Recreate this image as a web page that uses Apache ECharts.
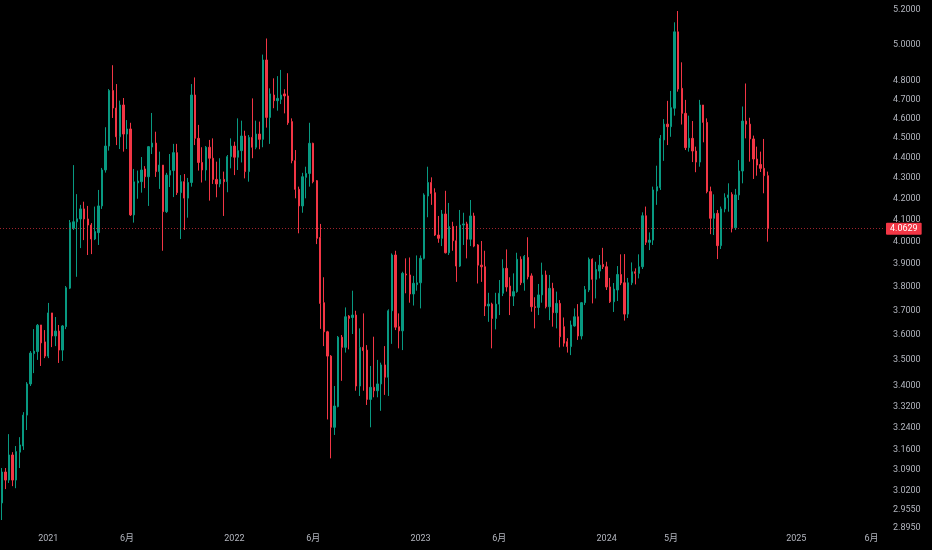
<!DOCTYPE html>
<html><head><meta charset="utf-8">
<script src="https://cdn.jsdelivr.net/npm/echarts@6/dist/echarts.min.js"></script>
<style>html,body{margin:0;padding:0;background:#000;}#c{width:932px;height:550px;}</style>
</head><body><div id="c"></div>
<script>
// ---- data ----
const firstWeek = [2020, 9, 5];   // Monday 2020-10-05 (month 0-based)
const weekCount = 247;            // weekly slots incl. empty future area
const xLabelDates = ['2021-01-04','2021-06-07','2022-01-03','2022-06-06','2023-01-02','2023-06-05','2024-01-01','2024-05-06','2025-01-06','2025-06-02'];
const xLabelTexts = ['2021','6月','2022','6月','2023','6月','2024','5月','2025','6月'];
const yTickValues = [5.2,5.0,4.8,4.7,4.6,4.5,4.4,4.3,4.2,4.1,4.0,3.9,3.8,3.7,3.6,3.5,3.4,3.32,3.24,3.16,3.09,3.02,2.955,2.895];
const lastPrice = 4.0629;

const opens = [2.977,3.083,3.055,3.143,3.055,3.153,3.175,3.288,3.406,3.525,3.533,3.641,3.572,3.515,3.691,3.596,3.616,3.539,3.634,3.796,
4.062,4.092,4.105,4.152,4.105,4.077,4.013,4.042,4.166,4.339,4.458,4.747,4.654,4.505,4.670,4.519,4.545,4.124,4.276,4.282,
4.344,4.306,4.453,4.473,4.331,4.363,4.139,4.314,4.336,4.425,4.229,4.282,4.203,4.278,4.723,4.497,4.376,4.339,4.452,4.397,
4.293,4.271,4.293,4.282,4.405,4.458,4.402,4.435,4.509,4.331,4.502,4.452,4.519,4.492,4.914,4.605,4.723,4.693,4.700,4.729,
4.718,4.583,4.385,4.245,4.166,4.303,4.322,4.472,4.287,4.020,3.734,3.613,3.515,3.243,3.320,3.591,3.550,3.678,3.672,3.682,
3.398,3.550,3.539,3.347,3.393,3.380,3.406,3.480,3.432,3.700,3.941,3.634,3.617,3.857,3.853,3.771,3.811,3.819,3.926,4.213,
4.278,4.229,4.031,4.016,4.128,3.951,4.070,4.005,3.892,4.077,4.082,4.012,4.119,3.986,3.896,3.889,3.720,3.728,3.668,3.728,
3.774,3.882,3.805,3.762,3.781,3.922,3.819,3.930,3.849,3.717,3.714,3.767,3.853,3.717,3.795,3.692,3.731,3.634,3.573,3.553,
3.637,3.675,3.596,3.734,3.788,3.922,3.834,3.870,3.899,3.889,3.801,3.738,3.788,3.855,3.819,3.686,3.819,3.867,3.860,3.889,
4.120,3.998,4.008,4.237,4.253,4.489,4.570,4.557,4.653,5.073,4.759,4.626,4.450,4.497,4.433,4.378,4.670,4.579,4.234,4.108,
4.131,3.983,4.152,4.205,4.221,4.064,4.218,4.334,4.586,4.570,4.494,4.393,4.366,4.347,4.311];
const closes = [3.083,3.055,3.143,3.055,3.155,3.179,3.288,3.406,3.527,3.535,3.640,3.568,3.515,3.691,3.596,3.616,3.539,3.637,3.798,4.088,
4.092,4.106,4.152,4.105,4.077,4.013,4.047,4.166,4.339,4.458,4.747,4.654,4.505,4.670,4.519,4.545,4.124,4.281,4.285,4.339,
4.306,4.455,4.473,4.331,4.363,4.139,4.314,4.336,4.425,4.229,4.282,4.203,4.278,4.723,4.497,4.376,4.339,4.452,4.397,4.293,
4.271,4.293,4.282,4.405,4.458,4.402,4.435,4.509,4.331,4.502,4.452,4.519,4.492,4.914,4.605,4.729,4.693,4.705,4.723,4.718,
4.577,4.385,4.245,4.166,4.306,4.322,4.472,4.282,4.016,3.731,3.613,3.515,3.243,3.322,3.591,3.550,3.675,3.668,3.682,3.398,
3.550,3.537,3.347,3.393,3.380,3.406,3.480,3.432,3.700,3.941,3.632,3.617,3.860,3.853,3.771,3.817,3.819,3.926,4.218,4.278,
4.225,4.031,4.016,4.128,3.951,4.070,4.005,3.892,4.077,4.082,4.012,4.119,3.981,3.896,3.889,3.720,3.728,3.668,3.728,3.774,
3.882,3.801,3.762,3.781,3.922,3.819,3.935,3.845,3.717,3.714,3.767,3.853,3.717,3.795,3.692,3.731,3.593,3.567,3.553,3.641,
3.675,3.596,3.734,3.790,3.922,3.834,3.877,3.896,3.889,3.801,3.738,3.792,3.855,3.818,3.686,3.819,3.867,3.860,3.889,4.120,
3.998,4.008,4.242,4.258,4.497,4.570,4.557,4.656,5.073,4.755,4.626,4.450,4.497,4.433,4.378,4.670,4.579,4.234,4.108,4.131,
3.983,4.152,4.205,4.218,4.064,4.218,4.334,4.586,4.570,4.494,4.393,4.363,4.347,4.311,4.0629];
const lows = [2.920,3.024,3.045,3.034,3.027,3.097,3.161,3.233,3.398,3.448,3.500,3.476,3.507,3.507,3.551,3.555,3.488,3.496,3.624,3.792,
4.054,3.845,3.972,4.008,3.941,3.945,4.008,3.986,4.152,4.326,4.435,4.602,4.463,4.443,4.430,4.443,4.119,4.088,4.200,4.229,
4.251,4.166,4.418,4.305,4.247,3.960,4.133,4.256,4.208,4.218,4.013,4.054,4.111,4.258,4.463,4.336,4.278,4.287,4.191,4.271,
4.207,4.255,4.119,4.231,4.347,4.314,4.339,4.376,4.298,4.282,4.397,4.442,4.442,4.452,4.552,4.469,4.653,4.640,4.675,4.626,
4.566,4.372,4.202,4.039,4.134,4.202,4.258,4.274,3.990,3.625,3.555,3.272,3.131,3.215,3.317,3.418,3.529,3.542,3.604,3.380,
3.360,3.380,3.326,3.243,3.355,3.355,3.304,3.364,3.360,3.564,3.620,3.546,3.539,3.774,3.734,3.722,3.785,3.710,3.921,4.113,
4.171,4.027,3.996,3.981,3.948,3.941,3.960,3.823,3.888,3.986,3.926,3.981,3.976,3.816,3.823,3.678,3.654,3.546,3.623,3.682,
3.762,3.781,3.682,3.720,3.776,3.809,3.785,3.834,3.696,3.627,3.682,3.734,3.710,3.661,3.634,3.627,3.550,3.553,3.529,3.519,
3.634,3.580,3.582,3.724,3.779,3.731,3.752,3.838,3.879,3.788,3.733,3.695,3.741,3.809,3.659,3.670,3.809,3.812,3.838,3.879,
3.986,3.963,3.986,4.171,4.242,4.384,4.463,4.505,4.614,4.741,4.568,4.438,4.430,4.378,4.328,4.355,4.477,4.226,4.035,4.031,
3.923,3.968,4.136,4.139,4.043,4.054,4.194,4.274,4.497,4.380,4.295,4.311,4.329,4.226,4.001];
const highs = [3.097,3.097,3.218,3.153,3.175,3.207,3.299,3.413,3.535,3.624,3.645,3.641,3.620,3.733,3.691,3.674,3.641,3.641,3.805,4.100,
4.363,4.222,4.171,4.186,4.166,4.086,4.163,4.242,4.349,4.554,4.755,4.885,4.782,4.693,4.707,4.591,4.577,4.344,4.336,4.403,
4.358,4.458,4.628,4.531,4.430,4.363,4.325,4.418,4.469,4.469,4.314,4.319,4.300,4.782,4.818,4.566,4.452,4.458,4.489,4.497,
4.380,4.397,4.331,4.413,4.497,4.480,4.600,4.588,4.536,4.514,4.705,4.588,4.583,4.944,5.035,4.759,4.813,4.825,4.859,4.754,
4.841,4.600,4.438,4.258,4.325,4.355,4.577,4.475,4.290,4.082,3.843,3.617,3.519,3.398,3.596,3.600,3.714,3.682,3.785,3.700,
3.627,3.689,3.559,3.476,3.593,3.500,3.489,3.555,3.706,3.948,3.960,3.689,3.867,3.926,3.930,3.849,3.939,3.939,4.226,4.355,
4.303,4.250,4.119,4.147,4.238,4.180,4.092,4.073,4.147,4.134,4.092,4.194,4.134,3.990,4.004,3.960,3.776,3.734,3.776,3.831,
3.922,3.966,3.843,3.860,3.951,3.935,3.941,4.021,3.860,3.757,3.814,3.907,3.872,3.853,3.819,3.781,3.745,3.672,3.587,3.659,
3.710,3.728,3.737,3.805,3.930,3.926,3.911,3.941,3.973,3.911,3.840,3.818,3.892,3.944,3.945,3.840,3.908,3.882,3.944,4.136,
4.163,4.043,4.258,4.360,4.514,4.596,4.692,4.745,5.128,5.194,4.901,4.697,4.614,4.586,4.455,4.697,4.670,4.600,4.258,4.221,
4.147,4.163,4.226,4.274,4.231,4.247,4.388,4.662,4.785,4.603,4.511,4.455,4.430,4.494,4.331];

// ---- build ----
const categories = [];
let t = Date.UTC(firstWeek[0], firstWeek[1], firstWeek[2]);
for (let i = 0; i < weekCount; i++) {
  categories.push(new Date(t).toISOString().slice(0, 10));
  t += 7 * 86400000;
}
const ohlc = opens.map((o, i) => [o, closes[i], lows[i], highs[i]]);
const labelMap = {};
xLabelDates.forEach((d, i) => { labelMap[d] = xLabelTexts[i]; });

const UP = '#089981', DOWN = '#f23645', TXT = '#b2b5be';
const FONT = 'Roboto, "Noto Sans CJK SC", sans-serif';

const chart = echarts.init(document.getElementById('c'), null, {renderer: 'canvas'});
chart.setOption({
  backgroundColor: '#000000',
  animation: false,
  grid: {left: 0, right: 48, top: 0, bottom: 20},
  xAxis: {
    type: 'category',
    data: categories,
    boundaryGap: true,
    axisLine: {show: false},
    axisTick: {show: false},
    splitLine: {show: false},
    axisLabel: {
      color: TXT, fontSize: 9, fontFamily: FONT, margin: 4,
      interval: (idx, val) => labelMap[val] !== undefined,
      formatter: (val) => labelMap[val] || ''
    }
  },
  yAxis: {
    type: 'log',
    position: 'right',
    min: 2.8872,
    max: 5.2591,
    axisLine: {show: false},
    axisTick: {show: false},
    splitLine: {show: false},
    axisLabel: {
      color: TXT, fontSize: 9, fontFamily: FONT, margin: 9,
      padding: [3, 0, 0, 0],
      customValues: yTickValues,
      formatter: (v) => Number(v).toFixed(4)
    }
  },
  series: [{
    type: 'candlestick',
    data: ohlc,
    barWidth: 1.8,
    itemStyle: {color: UP, color0: DOWN, borderColor: UP, borderColor0: DOWN, borderWidth: 1},
    markLine: {
      silent: true,
      symbol: ['none', 'none'],
      animation: false,
      lineStyle: {color: 'rgba(242,54,69,0.65)', type: [1, 2], width: 1},
      label: {
        show: true, position: 'end', distance: 2,
        formatter: () => lastPrice.toFixed(4),
        color: '#ffffff', backgroundColor: DOWN, fontSize: 9, fontFamily: FONT,
        padding: [2, 4, 1, 4], borderRadius: 1
      },
      data: [{yAxis: lastPrice}]
    }
  }]
});
</script></body></html>
